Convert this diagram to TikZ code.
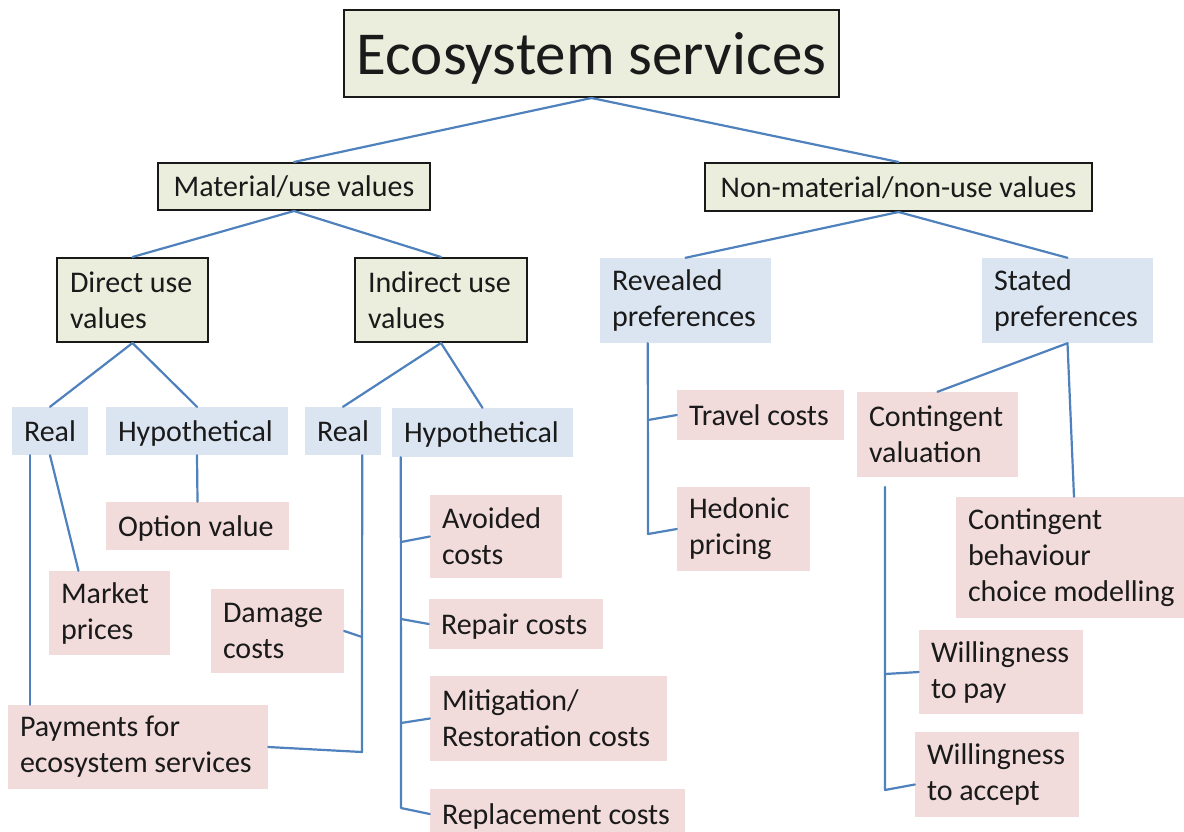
\documentclass[tikz,border=0pt]{standalone}
\usepackage{fontspec}
\setmainfont{Carlito}
\usetikzlibrary{calc}
\definecolor{gfill}{HTML}{EBEEDC}
\definecolor{bfill}{HTML}{DBE5F1}
\definecolor{pfill}{HTML}{F2DCDB}
\definecolor{lnk}{HTML}{4F81BD}
\definecolor{txt}{HTML}{1A1A1A}
\begin{document}
\begin{tikzpicture}[x=1pt,y=-1pt,
  base/.style={inner xsep=12pt, inner ysep=2pt, align=flush left, text=txt,
    font=\fontsize{30}{36}\selectfont},
  oneline/.style={text depth=0pt},
  gbox/.style={base, fill=gfill, draw=black!90, line width=2pt, inner xsep=13pt},
  bbox/.style={base, fill=bfill},
  pbox/.style={base, fill=pfill},
  link/.style={draw=lnk, line width=2.2pt, line cap=round, line join=round}]
\useasboundingbox (0,0) rectangle (1184,831);
\fill[white] (0,0) rectangle (1184,831);

% level 0/1
\node[gbox, oneline, align=center, minimum width=493pt, minimum height=87pt,
  font=\fontsize{61}{70}\selectfont] (title) at (591.5,53.5) {Ecosystem services};
\node[gbox, oneline, align=center, minimum width=272pt, minimum height=47pt] (mat) at (294,186.5) {Material/use values};
\node[gbox, oneline, align=center, minimum width=387pt, minimum height=48pt] (nonmat) at (898.5,187) {Non-material/non-use values};

% level 2
\node[gbox, minimum width=151pt, minimum height=84pt, text width=125pt] (direct) at (132.5,300) {Direct use\\values};
\node[gbox, minimum width=172pt, minimum height=84pt, text width=146pt] (indirect) at (441,300) {Indirect use\\values};
\node[bbox, minimum width=171pt, minimum height=85pt, text width=147pt] (revealed) at (685.5,300.5) {Revealed\\preferences};
\node[bbox, minimum width=171pt, minimum height=85pt, text width=147pt] (stated) at (1067.5,300.5) {Stated\\preferences};

% level 3
\node[bbox, oneline, minimum width=76pt, minimum height=48pt, text width=52pt] (realL) at (50,431) {Real};
\node[bbox, oneline, minimum width=182pt, minimum height=48pt, text width=158pt] (hypL) at (197,431) {Hypothetical};
\node[bbox, oneline, minimum width=76pt, minimum height=48pt, text width=52pt] (realM) at (343,431) {Real};
\node[bbox, oneline, minimum width=181pt, minimum height=49pt, text width=157pt] (hypM) at (482.5,432.5) {Hypothetical};

% leaves left
\node[pbox, oneline, minimum width=183pt, minimum height=48pt, text width=159pt] (option) at (197.5,526) {Option value};
\node[pbox, minimum width=121pt, minimum height=84pt, text width=97pt] (market) at (109.5,613) {Market\\prices};
\node[pbox, minimum width=133pt, minimum height=84pt, text width=109pt] (damage) at (277.5,631) {Damage\\costs};
\node[pbox, minimum width=260pt, minimum height=84pt, text width=236pt] (payments) at (138,747) {Payments for\\ecosystem services};
\node[pbox, minimum width=132pt, minimum height=83pt, text width=108pt] (avoided) at (496,536.5) {Avoided\\costs};
\node[pbox, oneline, minimum width=174pt, minimum height=50pt, text width=150pt] (repair) at (516,624) {Repair costs};
\node[pbox, minimum width=237pt, minimum height=85pt, text width=213pt] (mitig) at (548.5,718.5) {Mitigation/\\Restoration costs};
\node[pbox, oneline, minimum width=255pt, minimum height=50pt, text width=231pt] (replace) at (557.5,814) {Replacement costs};

% leaves right
\node[pbox, oneline, minimum width=167pt, minimum height=50pt, text width=143pt] (travel) at (760.5,415) {Travel costs};
\node[pbox, minimum width=133pt, minimum height=84pt, text width=109pt] (hedonic) at (743.5,529) {Hedonic\\pricing};
\node[pbox, minimum width=161pt, minimum height=85pt, text width=137pt] (cv) at (937.5,434.5) {Contingent\\valuation};
\node[pbox, minimum width=236pt, minimum height=121pt, text width=212pt] (cb) at (1074,557.5) {Contingent\\behaviour\\choice modelling};
\node[pbox, minimum width=164pt, minimum height=84pt, text width=140pt] (wtp) at (1001,672) {Willingness\\to pay};
\node[pbox, minimum width=164pt, minimum height=85pt, text width=140pt] (wta) at (997,774.5) {Willingness\\to accept};

% junction coordinates
\coordinate (rlTop) at ([xshift=-20pt]realL.south);
\coordinate (rlBot) at (rlTop |- payments.north);
\coordinate (rmTop) at ([xshift=-19pt]realM.south east);
\coordinate (rmD) at (362,637);
\coordinate (rmBot) at (362,752);
\coordinate (hmTop) at ([xshift=9pt]hypM.south west);
\coordinate (hmA) at (401,542);
\coordinate (hmR) at (401,619);
\coordinate (hmM) at (401,723);
\coordinate (hmP) at (401,808);
\coordinate (rvTop) at ([xshift=48pt]revealed.south west);
\coordinate (rvT) at (648,420);
\coordinate (rvH) at (648,534);
\coordinate (cvTop) at (885,487);
\coordinate (cvP) at (885,674);
\coordinate (cvA) at (885,790);

% connectors
\draw[link] (title.south) -- (mat.north);
\draw[link] (title.south) -- (nonmat.north);
\draw[link] (mat.south) -- (direct.north);
\draw[link] (mat.south) -- (indirect.north);
\draw[link] (nonmat.south) -- (revealed.north);
\draw[link] (nonmat.south) -- (stated.north);
\draw[link] (direct.south) -- (realL.north);
\draw[link] (direct.south) -- (hypL.north);
\draw[link] (indirect.south) -- (realM.north);
\draw[link] (indirect.south) -- (hypM.north);
\draw[link] (hypL.south) -- (option.north);
\draw[link] (rlTop) -- (rlBot);
\draw[link] (realL.south) -- ([xshift=-31pt]market.north);
\draw[link] (rmTop) -- (rmBot) -- (payments.east);
\draw[link] (damage.east) -- (rmD);
\draw[link] (hmTop) -- (hmP) -- (replace.west);
\draw[link] (hmA) -- (avoided.west);
\draw[link] (hmR) -- (repair.west);
\draw[link] (hmM) -- (mitig.west);
\draw[link] (rvTop) -- (rvH) -- (hedonic.west);
\draw[link] (rvT) -- (travel.west);
\draw[link] (stated.south) -- (cv.north);
\draw[link] (stated.south) -- (cb.north);
\draw[link] (cvTop) -- (cvA) -- ([yshift=-10pt]wta.west);
\draw[link] (cvP) -- (wtp.west);
\end{tikzpicture}
\end{document}
